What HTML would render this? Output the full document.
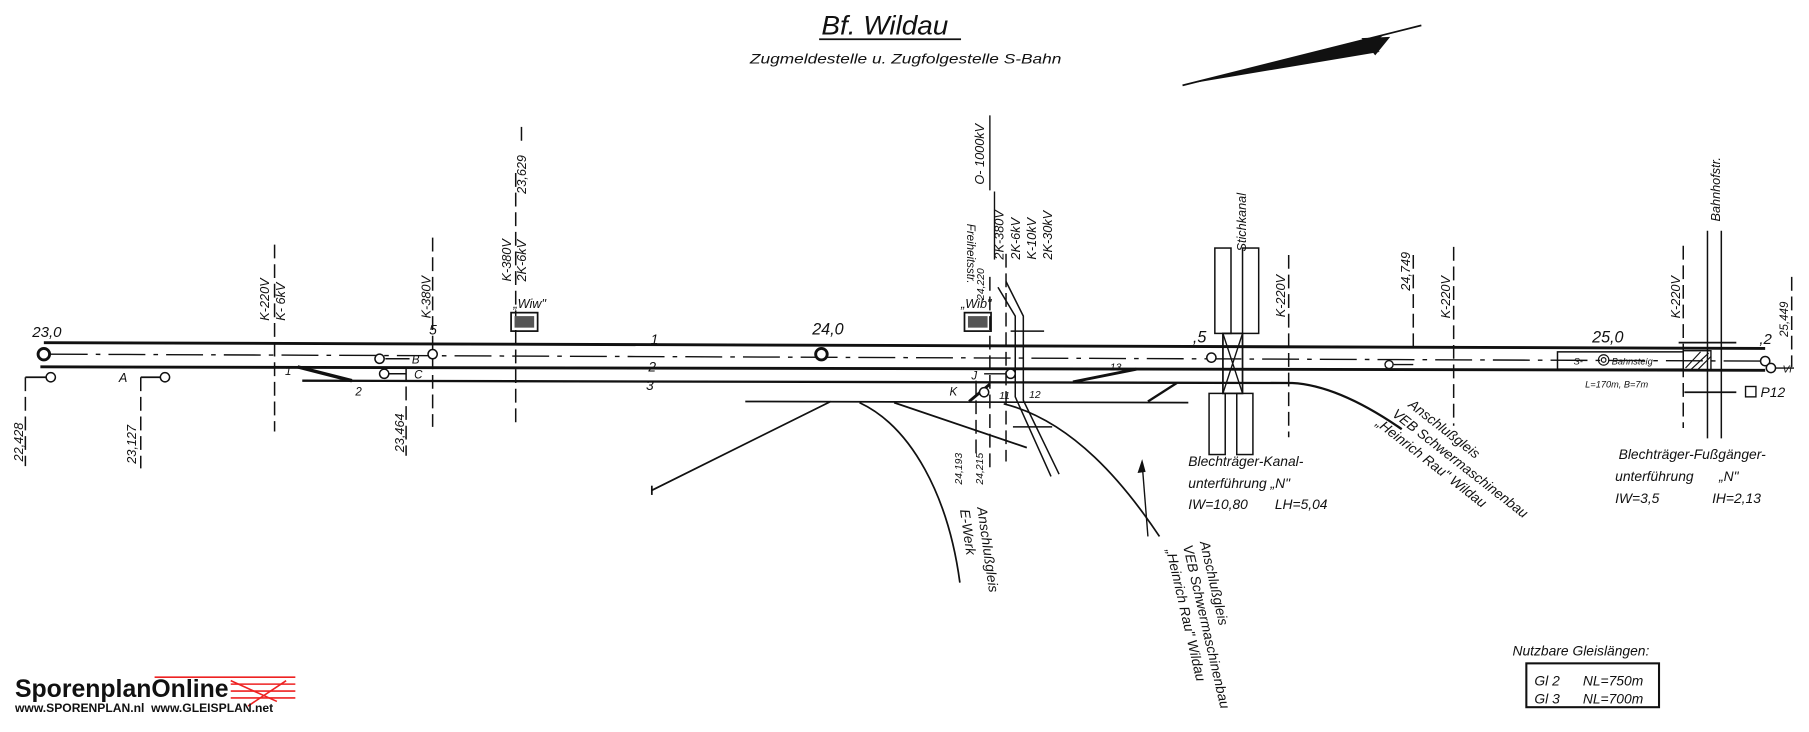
<!DOCTYPE html>
<html><head><meta charset="utf-8"><style>
html,body{margin:0;padding:0;background:#fff;}
svg{display:block;}
text{font-family:"Liberation Sans",sans-serif;font-style:italic;fill:#111;white-space:pre;}
</style></head><body>
<svg width="1809" height="732" viewBox="0 0 1568 634.5" preserveAspectRatio="none" xmlns="http://www.w3.org/2000/svg">
<rect width="1568" height="634.5" fill="#fff"/>
<text x="712" y="30" font-size="23" textLength="110" lengthAdjust="spacingAndGlyphs">Bf. Wildau</text>
<line x1="710" y1="34" x2="833" y2="34" stroke="#111" stroke-width="1.5"/>
<text x="650" y="55" font-size="12" textLength="270" lengthAdjust="spacingAndGlyphs">Zugmeldestelle u. Zugfolgestelle S-Bahn</text>
<line x1="1025" y1="74" x2="1232" y2="22" stroke="#111" stroke-width="1.5"/>
<polygon points="1028,73 1200,30 1186,40 1196,45" fill="#111"/>
<polygon points="1180,33 1205,32 1192,48" fill="#111"/>

<g stroke="#111" fill="none">
<line x1="38" y1="297" x2="1530" y2="302" stroke-width="2.5"/>
<line x1="44" y1="307" x2="1530" y2="313" stroke-width="1.2" stroke-dasharray="32 7 4 7"/>
<line x1="35" y1="318" x2="1530" y2="321" stroke-width="2.5"/>
<path d="M262,330 L1120,332 Q1160,334 1215,372" stroke-width="2"/>
<line x1="258" y1="318" x2="305" y2="330" stroke-width="3"/>
<line x1="646" y1="348" x2="1030" y2="349" stroke-width="1.5"/>
<line x1="720" y1="348" x2="565" y2="425" stroke-width="1.5"/>
<path d="M565,421 v8" stroke-width="1.5"/>
<path d="M745,349 C790,370 822,430 832,505" stroke-width="1.5"/>
<line x1="775" y1="349" x2="890" y2="388" stroke-width="1.5"/>
<path d="M870,350 C930,365 975,420 1005,465" stroke-width="1.5"/>
<line x1="995" y1="465" x2="990" y2="402" stroke-width="1.2"/>
<polygon points="990,398 986,410 993,409" fill="#111" stroke="none"/>
<line x1="930" y1="331" x2="985" y2="320" stroke-width="2.5"/>
<line x1="995" y1="348" x2="1020" y2="332" stroke-width="2"/>
<line x1="840" y1="348" x2="858" y2="333" stroke-width="2.5"/>
<path d="M865,249 L880,274 L880,344 L911,413" stroke-width="1.3"/>
<path d="M872,244 L887,274 L887,347 L918,411" stroke-width="1.3"/>
<line x1="876" y1="287" x2="905" y2="287" stroke-width="1.3"/>
<line x1="878" y1="370" x2="912" y2="370" stroke-width="1.3"/>
<g stroke-width="1.3" stroke-dasharray="12 5">
<line x1="238" y1="212" x2="238" y2="374"/>
<line x1="375" y1="206" x2="375" y2="370"/>
<line x1="447" y1="150" x2="447" y2="370"/>
<line x1="858" y1="240" x2="858" y2="410"/>
<line x1="872" y1="220" x2="872" y2="400"/>
<line x1="846" y1="330" x2="846" y2="395"/>
<line x1="1117" y1="221" x2="1117" y2="379"/>
<line x1="1225" y1="221" x2="1225" y2="305"/>
<line x1="1260" y1="214" x2="1260" y2="369"/>
<line x1="1459" y1="213" x2="1459" y2="371"/>
<line x1="1553" y1="240" x2="1553" y2="318"/>
<line x1="22" y1="327" x2="22" y2="404"/>
<line x1="122" y1="327" x2="122" y2="406"/>
<line x1="352" y1="318" x2="352" y2="395"/>
<line x1="452" y1="110" x2="452" y2="125"/>
</g>
<line x1="858" y1="100" x2="858" y2="165" stroke-width="1.2"/>
<line x1="862" y1="166" x2="862" y2="225" stroke-width="1.2"/>
<line x1="1480" y1="200" x2="1480" y2="380" stroke-width="1.3"/>
<line x1="1492" y1="200" x2="1492" y2="380" stroke-width="1.3"/>
<line x1="1455" y1="297" x2="1505" y2="297" stroke-width="1.5"/>
<line x1="1460" y1="340" x2="1505" y2="340" stroke-width="1.5"/>
<rect x="1053" y="215" width="14" height="74" stroke-width="1.3"/>
<rect x="1077" y="215" width="14" height="74" stroke-width="1.3"/>
<rect x="1060" y="289" width="17" height="52" stroke-width="1.5"/>
<path d="M1060,289 L1077,341 M1077,289 L1060,341" stroke-width="1.2"/>
<rect x="1048" y="341" width="14" height="53" stroke-width="1.3"/>
<rect x="1072" y="341" width="14" height="53" stroke-width="1.3"/>
<rect x="1350" y="305" width="109" height="15" stroke-width="1.3"/>
<rect x="1459" y="304" width="24" height="17" stroke-width="1.2"/>
<path d="M1461,319 L1474,305 M1466,320 L1481,306 M1472,320 L1483,309" stroke-width="1"/>
<circle cx="1390" cy="312" r="4.5" stroke-width="1"/><circle cx="1390" cy="312" r="2" stroke-width="1"/>
<rect x="1513" y="335" width="9" height="9" stroke-width="1.2"/>
<circle cx="38" cy="307" r="5" stroke-width="2.5" fill="#fff"/>
<circle cx="712" cy="307" r="5" stroke-width="2.5" fill="#fff"/>
<path d="M22,327 H40" stroke-width="1.5"/><circle cx="44" cy="327" r="4" fill="#fff" stroke-width="1.3"/>
<path d="M122,327 H139" stroke-width="1.5"/><circle cx="143" cy="327" r="4" fill="#fff" stroke-width="1.3"/>
<path d="M334,311 H355" stroke-width="1.3"/><circle cx="329" cy="311" r="4" fill="#fff" stroke-width="1.3"/>
<path d="M337,324 H352" stroke-width="1.3"/><circle cx="333" cy="324" r="4" fill="#fff" stroke-width="1.3"/>
<circle cx="375" cy="307" r="4" fill="#fff" stroke-width="1.3"/>
<circle cx="876" cy="324" r="4" fill="#fff" stroke-width="1.3"/>
<path d="M853,324 H872" stroke-width="1.2"/>
<circle cx="853" cy="340" r="4" fill="#fff" stroke-width="1.3"/>
<circle cx="1050" cy="310" r="4" fill="#fff" stroke-width="1.3"/>
<circle cx="1204" cy="316" r="3.5" fill="#fff" stroke-width="1.2"/>
<path d="M1208,316 H1225" stroke-width="1.2"/>
<circle cx="1530" cy="313" r="4" fill="#fff" stroke-width="1.3"/>
<circle cx="1535" cy="319" r="4" fill="#fff" stroke-width="1.3"/>
<path d="M1539,319 H1555" stroke-width="1.2"/>
<rect x="443" y="271" width="23" height="16" stroke-width="1.5"/>
<rect x="446" y="274" width="17" height="10" fill="#555" stroke="none"/>
<rect x="836" y="271" width="23" height="16" stroke-width="1.5"/>
<rect x="839" y="274" width="17" height="10" fill="#555" stroke="none"/>
<rect x="1323" y="575" width="115" height="38" stroke-width="1.8"/>
<g stroke="#e22" stroke-width="1.4">
<line x1="134" y1="587" x2="256" y2="587"/><line x1="200" y1="593" x2="256" y2="593"/>
<line x1="200" y1="599" x2="256" y2="599"/><line x1="200" y1="605" x2="256" y2="605"/>
<line x1="200" y1="590" x2="240" y2="608"/><line x1="248" y1="590" x2="215" y2="612"/>
</g>
</g>
<g font-size="12">
<text x="28" y="292" font-size="13">23,0</text>
<text x="704" y="290" font-size="14">24,0</text>
<text x="1380" y="297" font-size="14">25,0</text>
<text x="1525" y="298" font-size="13">,2</text>
<text x="372" y="290" font-size="12">5</text>
<text x="1034" y="297" font-size="14">,5</text>
<text x="564" y="298">1</text><text x="562" y="322">2</text><text x="560" y="338">3</text>
<text x="103" y="331" font-size="11">A</text>
<text x="357" y="315" font-size="10">B</text><text x="359" y="328" font-size="10">C</text>
<text x="247" y="325" font-size="10">1</text><text x="308" y="343" font-size="10">2</text>
<text x="842" y="329" font-size="10">J</text><text x="823" y="343" font-size="10">K</text>
<text x="866" y="346" font-size="9">11</text><text x="892" y="345" font-size="9">12</text>
<text x="962" y="321" font-size="9">13</text>
<text x="1545" y="323" font-size="9">Vl</text>
<text x="1526" y="344" font-size="12">P12</text>
<text x="1364" y="316" font-size="8">S-</text><text x="1397" y="316" font-size="8">Bahnsteig</text>
<text x="1374" y="336" font-size="8">L=170m, B=7m</text>
<text x="445" y="267" font-size="11">„Wiw"</text>
<text x="833" y="267" font-size="11">„Wib"</text>
<text x="1030" y="404" font-size="12">Blechträger-Kanal-</text>
<text x="1030" y="423" font-size="12">unterführung „N"</text>
<text x="1030" y="441" font-size="12">IW=10,80</text><text x="1105" y="441" font-size="12">LH=5,04</text>
<text x="1403" y="398" font-size="12">Blechträger-Fußgänger-</text>
<text x="1400" y="417" font-size="12">unterführung</text><text x="1490" y="417" font-size="12">„N"</text>
<text x="1400" y="436" font-size="12">IW=3,5</text><text x="1484" y="436" font-size="12">IH=2,13</text>
<text x="1311" y="568" font-size="12">Nutzbare Gleislängen:</text>
<text x="1330" y="594" font-size="12">Gl 2</text><text x="1372" y="594" font-size="12">NL=750m</text>
<text x="1330" y="610" font-size="12">Gl 3</text><text x="1372" y="610" font-size="12">NL=700m</text>
<g transform="translate(1220,352) rotate(38)" font-size="12">
<text x="0" y="0">Anschlußgleis</text><text x="-6" y="15">VEB Schwermaschinenbau</text><text x="-12" y="30">„Heinrich Rau" Wildau</text></g>
<g transform="translate(847,440) rotate(82)" font-size="12">
<text x="0" y="0">Anschlußgleis</text><text x="0" y="15">E-Werk</text></g>
<g transform="translate(1040,470) rotate(77)" font-size="12">
<text x="0" y="0">Anschlußgleis</text><text x="0" y="15">VEB Schwermaschinenbau</text><text x="0" y="30">„Heinrich Rau" Wildau</text></g>
<g font-size="11">
<text transform="translate(233,278) rotate(-90)">K-220V</text>
<text transform="translate(247,278) rotate(-90)">K- 6kV</text>
<text transform="translate(373,276) rotate(-90)">K-380V</text>
<text transform="translate(443,244) rotate(-90)">K-380V</text>
<text transform="translate(456,244) rotate(-90)">2K-6kV</text>
<text transform="translate(456,168) rotate(-90)">23,629</text>
<text transform="translate(853,160) rotate(-90)">O- 1000kV</text>
<text transform="translate(870,225) rotate(-90)">2K-380V</text>
<text transform="translate(884,225) rotate(-90)">2K-6kV</text>
<text transform="translate(898,225) rotate(-90)">K-10kV</text>
<text transform="translate(912,225) rotate(-90)">2K-30kV</text>
<text transform="translate(838,194) rotate(90)" font-size="10">Freiheitsstr.</text>
<text transform="translate(853,260) rotate(-90)" font-size="9">24,220</text>
<text transform="translate(1080,218) rotate(-90)">Stichkanal</text>
<text transform="translate(1114,275) rotate(-90)">K-220V</text>
<text transform="translate(1222,252) rotate(-90)">24,749</text>
<text transform="translate(1257,276) rotate(-90)">K-220V</text>
<text transform="translate(1456,276) rotate(-90)">K-220V</text>
<text transform="translate(1491,192) rotate(-90)">Bahnhofstr.</text>
<text transform="translate(1550,292) rotate(-90)" font-size="10">25,449</text>
<text transform="translate(20,400) rotate(-90)">22,428</text>
<text transform="translate(118,402) rotate(-90)">23,127</text>
<text transform="translate(350,392) rotate(-90)">23,464</text>
<text transform="translate(834,420) rotate(-90)" font-size="9">24,193</text>
<text transform="translate(852,420) rotate(-90)" font-size="9">24,215</text>
</g>
</g>
<text x="13" y="604" font-size="21.5" font-weight="bold" style="font-style:normal" fill="#000">SporenplanOnline</text>
<text x="13" y="617" font-size="10.5" font-weight="bold" style="font-style:normal" fill="#000">www.SPORENPLAN.nl  www.GLEISPLAN.net</text>
</svg>
</body></html>
